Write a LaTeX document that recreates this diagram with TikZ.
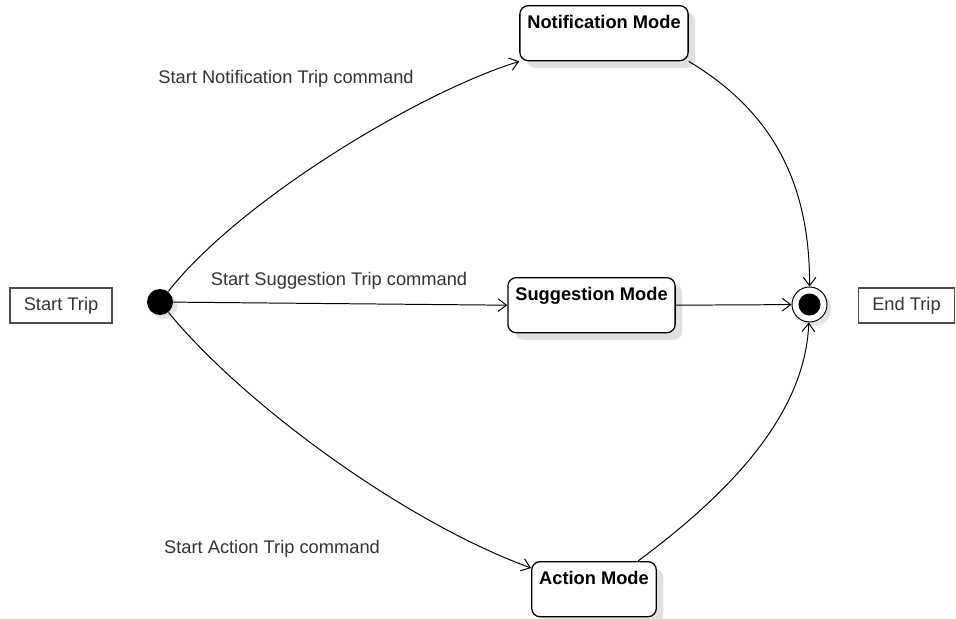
\documentclass[tikz,border=0pt]{standalone}
\usepackage{fontspec}
\setmainfont{Liberation Sans}
\usetikzlibrary{arrows.meta,shadows,calc}

\begin{document}
\begin{tikzpicture}[x=0.025cm, y=-0.025cm, line width=0.7pt,
    every node/.style={font=\fontsize{13}{15}\selectfont},
    shade/.style={drop shadow={shadow xshift=5pt, shadow yshift=-5pt, fill=black!12, opacity=1}},
    mode/.style={draw, fill=white, rounded corners=6pt, line width=0.9pt, anchor=north,
                 font=\fontsize{13}{15}\selectfont\bfseries,
                 text height=16.4pt, text depth=22.8pt, inner ysep=0pt, inner xsep=5.3pt, shade},
    termbox/.style={draw=black!70, line width=0.9pt, text=black!80, minimum height=0.875cm, inner sep=0pt},
    trans/.style={-{Straight Barb[length=6pt,width=9pt]}},
    cmd/.style={text=black!80}]
    \useasboundingbox (0,0) rectangle (956,619);

    %---- start and end
    \node[termbox, minimum width=2.55cm] (starttrip) at (61,305.5) {Start Trip};
    \node[circle, fill=black, minimum size=0.65cm, inner sep=0pt,
          drop shadow={shadow xshift=3pt, shadow yshift=-3pt, fill=black!10, opacity=1}] (init) at (160,302) {};
    \node[circle, draw, fill=white, minimum size=0.875cm, inner sep=0pt,
          drop shadow={shadow xshift=3pt, shadow yshift=-3pt, fill=black!10, opacity=1}] (final) at (809.5,304.5) {};
    \node[circle, fill=black, minimum size=0.55cm, inner sep=0pt] (finaldot) at (final) {};
    \node[termbox, minimum width=2.4cm] (endtrip) at (906.5,305.5) {End Trip};

    %---- modes
    \node[mode] (notif)  at (604,5)    {Notification Mode};
    \node[mode] (sugg)   at (591.5,277) {Suggestion Mode};
    \node[mode] (action) at (594,561)  {Action Mode};

    %---- transitions out of the start
    \draw[trans] (init) .. controls (240,200) and (420,92) .. (notif.south west);
    \draw[trans] (init) -- (sugg.west);
    \draw[trans] (init) .. controls (240,400) and (400,520) .. ([yshift=-5pt]action.north west);

    %---- transitions into the end
    \draw[trans] (notif.south east) .. controls (770,110) and (810,180) .. (final);
    \draw[trans] (sugg.east) -- (final);
    \draw[trans] ($(action.north)!0.7!(action.north east)$) .. controls (720,500) and (805,420) .. (final);

    %---- commands
    \node[cmd] (notifcmd)  at (286,79)  {Start Notification Trip command};
    \node[cmd] (suggcmd)   at (339,281) {Start Suggestion Trip command};
    \node[cmd] (actioncmd) at (272,549) {Start Action Trip command};
\end{tikzpicture}
\end{document}
